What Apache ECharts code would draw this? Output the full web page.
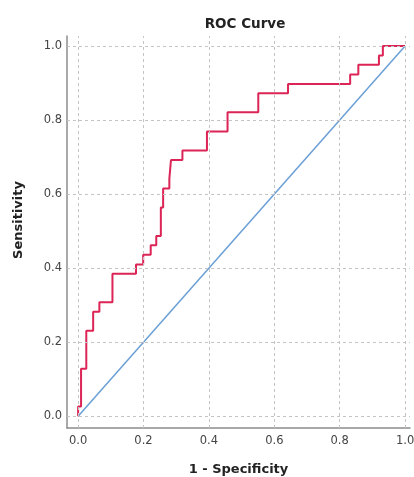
<!DOCTYPE html>
<html>
<head>
<meta charset="utf-8">
<script src="https://cdn.jsdelivr.net/npm/echarts@6/dist/echarts.min.js"></script>
<style>
html,body{margin:0;padding:0;background:#fff;}
#c{width:414px;height:477px;}
</style>
</head>
<body>
<div id="c"></div>
<script>
// ROC curve vertices (1 - Specificity, Sensitivity)
var fpr = [0,0,0.009,0.009,0.025,0.025,0.046,0.046,0.065,0.065,0.105,0.105,0.177,0.177,0.199,0.199,0.222,0.222,0.239,0.239,0.253,0.253,0.260,0.260,0.279,0.279,0.284,0.284,0.319,0.319,0.394,0.394,0.457,0.457,0.551,0.551,0.642,0.642,0.832,0.832,0.857,0.857,0.920,0.920,0.932,0.932,1];
var tpr = [0,0.026,0.026,0.128,0.128,0.231,0.231,0.282,0.282,0.308,0.308,0.385,0.385,0.410,0.410,0.436,0.436,0.462,0.462,0.487,0.487,0.564,0.564,0.615,0.615,0.641,0.641,0.692,0.692,0.718,0.718,0.769,0.769,0.821,0.821,0.872,0.872,0.897,0.897,0.923,0.923,0.949,0.949,0.974,0.974,1,1];
// Reference diagonal
var refX = [0, 1];
var refY = [0, 1];
// Tick labels
var ticks = [0, 0.2, 0.4, 0.6, 0.8, 1.0];
var titleText = 'ROC Curve';
var xName = '1 - Specificity';
var yName = 'Sensitivity';

var curve = fpr.map(function (x, i) { return [x, tpr[i]]; });
var diag = refX.map(function (x, i) { return [x, refY[i]]; });

var gridStyle = { color: '#c4c4c4', width: 1, type: [3, 3] };
var gridMarks = [];
ticks.forEach(function (t) {
  gridMarks.push({ xAxis: t });
  gridMarks.push({ yAxis: t });
});

var chart = echarts.init(document.getElementById('c'), null, { renderer: 'canvas' });
chart.setOption({
  animation: false,
  backgroundColor: '#ffffff',
  title: {
    text: titleText,
    left: 240,
    textAlign: 'center',
    top: 12,
    textStyle: { fontFamily: 'DejaVu Sans', fontWeight: 'bold', fontSize: 13.5, color: '#222' }
  },
  grid: { left: 67, right: 4, top: 36, bottom: 49, containLabel: false, outerBoundsMode: 'none' },
  xAxis: {
    type: 'value',
    min: -0.034,
    max: 1.015,
    name: xName,
    nameLocation: 'middle',
    nameGap: 35,
    nameTextStyle: { fontFamily: 'DejaVu Sans', fontWeight: 'bold', fontSize: 13, color: '#222' },
    axisLine: { show: true, onZero: false, lineStyle: { color: '#8c8c8c', width: 1.5 } },
    axisTick: { show: false, customValues: ticks },
    axisLabel: {
      customValues: ticks,
      formatter: function (v) { return v.toFixed(1); },
      fontFamily: 'DejaVu Sans', fontSize: 11.5, color: '#444', margin: 7
    },
    splitLine: { show: false }
  },
  yAxis: {
    type: 'value',
    min: -0.032,
    max: 1.027,
    name: yName,
    nameLocation: 'middle',
    nameRotate: 90,
    nameGap: 42,
    nameTextStyle: { fontFamily: 'DejaVu Sans', fontWeight: 'bold', fontSize: 13, color: '#222', padding: [0, 0, 0, 24] },
    axisLine: { show: true, onZero: false, lineStyle: { color: '#8c8c8c', width: 1.5 } },
    axisTick: { show: false, customValues: ticks },
    axisLabel: {
      customValues: ticks,
      formatter: function (v) { return v.toFixed(1); },
      fontFamily: 'DejaVu Sans', fontSize: 11.5, color: '#444', margin: 5
    },
    splitLine: { show: false }
  },
  series: [
    {
      type: 'line',
      data: [],
      silent: true,
      markLine: {
        symbol: ['none', 'none'],
        silent: true,
        label: { show: false },
        lineStyle: gridStyle,
        data: gridMarks
      }
    },
    {
      type: 'line',
      data: diag,
      showSymbol: false,
      lineStyle: { color: '#6a9fd6', width: 1.5 },
      z: 3
    },
    {
      type: 'line',
      data: curve,
      showSymbol: false,
      lineStyle: { color: '#dc2456', width: 2 },
      z: 4
    }
  ]
});
</script>
</body>
</html>
